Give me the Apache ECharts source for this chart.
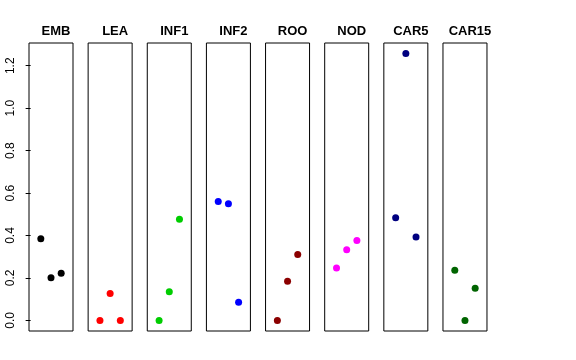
<!DOCTYPE html>
<html><head><meta charset="utf-8">
<script src="https://cdn.jsdelivr.net/npm/echarts@6/dist/echarts.min.js"></script>
<style>html,body{margin:0;padding:0;background:#fff}#c{width:576px;height:360px}</style>
</head><body><div id="c"></div>
<script>
var panels = ['EMB','LEA','INF1','INF2','ROO','NOD','CAR5','CAR15'];
var colors = ['#000000','#FF0000','#00CD00','#0000FF','#8B0000','#FF00FF','#000080','#006400'];
var xPos = [1, 2, 3];
var EMB = [0.385, 0.201, 0.222];
var LEA = [0.0, 0.127, 0.0];
var INF1 = [0.0, 0.135, 0.477];
var INF2 = [0.560, 0.550, 0.086];
var ROO = [0.0, 0.185, 0.310];
var NOD = [0.247, 0.333, 0.377];
var CAR5 = [0.484, 1.258, 0.393];
var CAR15 = [0.236, 0.0, 0.152];
var yTicks = [0, 0.2, 0.4, 0.6, 0.8, 1.0, 1.2];
var values = [EMB, LEA, INF1, INF2, ROO, NOD, CAR5, CAR15];

var grids = [], xAxes = [], yAxes = [], series = [], titles = [];
var L0 = 29, W = 44, STEP = 59.14, TOP = 43, H = 288;
panels.forEach(function(p, i){
  var left = L0 + i*STEP;
  grids.push({left: left, top: TOP, width: W, height: H, show: true, borderColor: '#000', borderWidth: 1, backgroundColor: 'transparent'});
  xAxes.push({gridIndex: i, type: 'value', min: -0.16, max: 4.16, show: false});
  yAxes.push({gridIndex: i, type: 'value', min: -0.05, max: 1.307, interval: 0.2,
    show: i === 0,
    axisLine: {show: false},
    axisTick: {show: i === 0, length: 5, lineStyle: {color: '#000'}, customValues: yTicks},
    splitLine: {show: false},
    axisLabel: {show: i === 0, rotate: 90, margin: 12, fontFamily: 'Liberation Sans', fontSize: 12, color: '#000',
      customValues: yTicks,
      formatter: function(v){ return v.toFixed(1); }}
  });
  titles.push({text: p, left: left + W/2, top: 20, textAlign: 'center',
    textStyle: {fontFamily: 'Liberation Sans', fontWeight: 'bold', fontSize: 13, color: '#000'}});
  series.push({type: 'scatter', xAxisIndex: i, yAxisIndex: i, symbol: 'circle', symbolSize: 7,
    itemStyle: {color: colors[i], opacity: 1}, silent: true, animation: false,
    data: xPos.map(function(x, j){ return [x, values[i][j]]; })});
});
var chart = echarts.init(document.getElementById('c'), null, {renderer: 'canvas'});
chart.setOption({animation: false, title: titles, grid: grids, xAxis: xAxes, yAxis: yAxes, series: series});
</script></body></html>
